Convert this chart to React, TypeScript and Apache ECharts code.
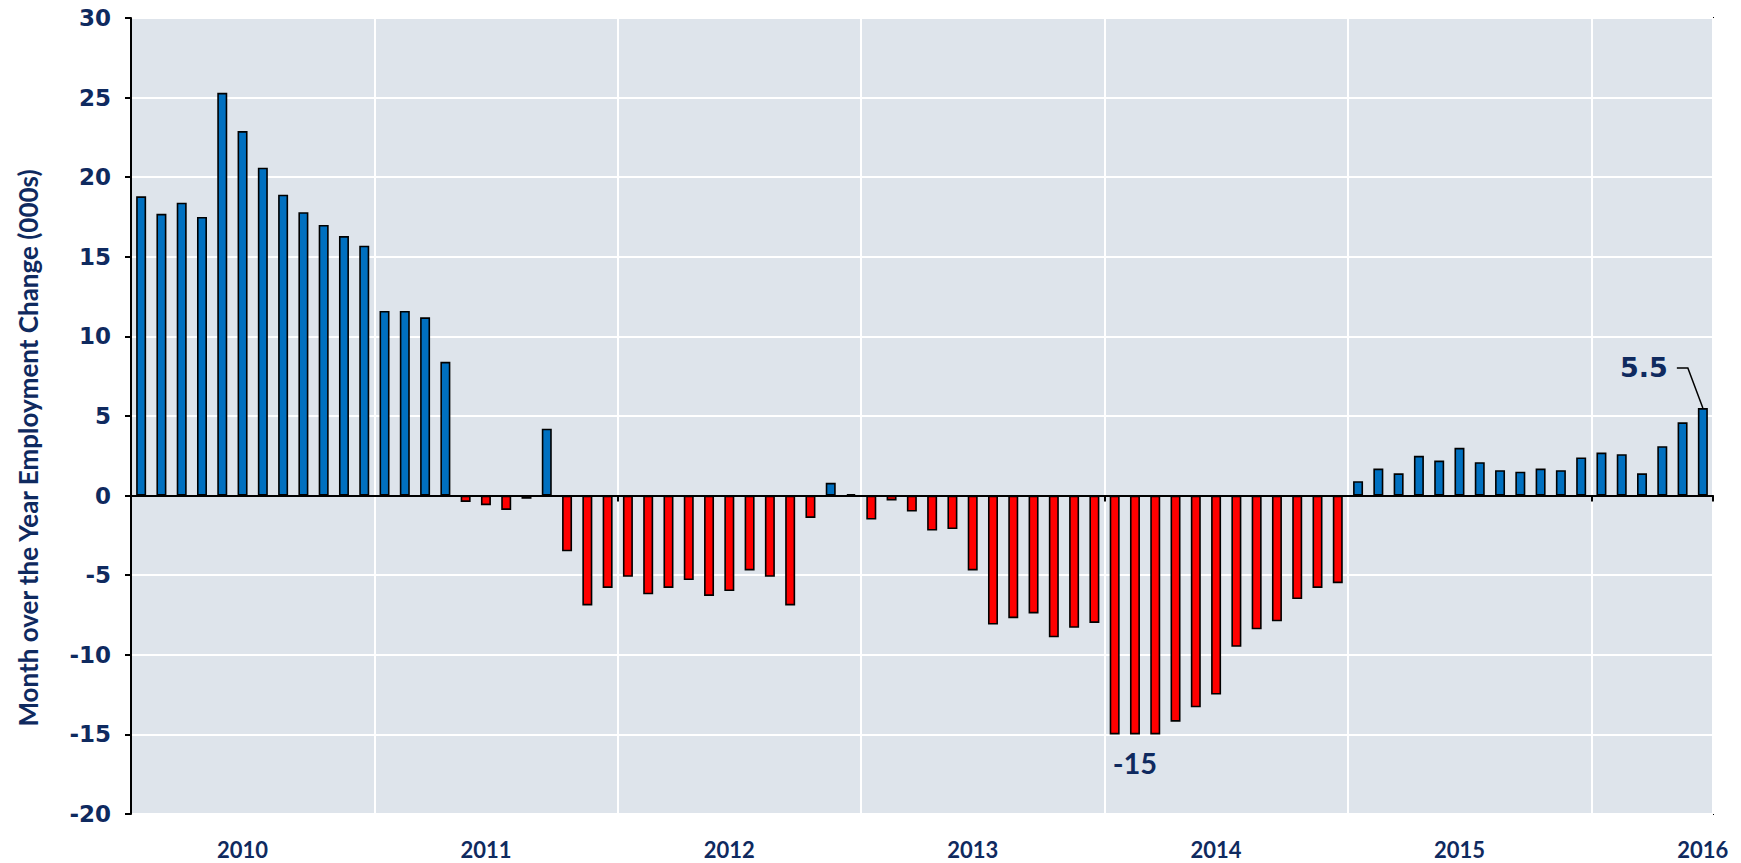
import React, { useEffect, useRef } from "react";
import * as echarts from "echarts";

// Monthly categories, Aug 2009 .. Jan 2016
const months: string[] = [
  "2009-08", "2009-09", "2009-10", "2009-11", "2009-12",
  "2010-01", "2010-02", "2010-03", "2010-04", "2010-05", "2010-06", "2010-07", "2010-08", "2010-09", "2010-10", "2010-11", "2010-12",
  "2011-01", "2011-02", "2011-03", "2011-04", "2011-05", "2011-06", "2011-07", "2011-08", "2011-09", "2011-10", "2011-11", "2011-12",
  "2012-01", "2012-02", "2012-03", "2012-04", "2012-05", "2012-06", "2012-07", "2012-08", "2012-09", "2012-10", "2012-11", "2012-12",
  "2013-01", "2013-02", "2013-03", "2013-04", "2013-05", "2013-06", "2013-07", "2013-08", "2013-09", "2013-10", "2013-11", "2013-12",
  "2014-01", "2014-02", "2014-03", "2014-04", "2014-05", "2014-06", "2014-07", "2014-08", "2014-09", "2014-10", "2014-11", "2014-12",
  "2015-01", "2015-02", "2015-03", "2015-04", "2015-05", "2015-06", "2015-07", "2015-08", "2015-09", "2015-10", "2015-11", "2015-12",
  "2016-01",
];

// Month over the year employment change (000s)
const employmentChange: number[] = [
  18.8, 17.7, 18.4, 17.5, 25.3,
  22.9, 20.6, 18.9, 17.8, 17.0, 16.3, 15.7, 11.6, 11.6, 11.2, 8.4, -0.4,
  -0.6, -0.9, -0.2, 4.2, -3.5, -6.9, -5.8, -5.1, -6.2, -5.8, -5.3, -6.3,
  -6.0, -4.7, -5.1, -6.9, -1.4, 0.8, 0.1, -1.5, -0.3, -1.0, -2.2, -2.1,
  -4.7, -8.1, -7.7, -7.4, -8.9, -8.3, -8.0, -15, -15, -15, -14.2, -13.3,
  -12.5, -9.5, -8.4, -7.9, -6.5, -5.8, -5.5, 0.9, 1.7, 1.4, 2.5, 2.2,
  3.0, 2.1, 1.6, 1.5, 1.7, 1.6, 2.4, 2.7, 2.6, 1.4, 3.1, 4.6,
  5.5,
];

const yAxisTicks = { min: -20, max: 30, step: 5 };
const yAxisTitle = "Month over the Year Employment Change (000s)";
const annotatedLow = 49; // middle of the three -15 bars
const annotatedLatest = employmentChange.length - 1;

const NAVY = "#0f2a5f";
const BLUE = "#0070c0";
const RED = "#ff0000";
const PLOT_BG = "#dee4eb";

export default function App() {
  const ref = useRef<HTMLDivElement>(null);

  useEffect(() => {
    if (!ref.current) return;
    const chart = echarts.init(ref.current, undefined, { renderer: "svg" });

    chart.setOption({
      animation: false,
      grid: {
        left: 131,
        right: 28,
        top: 18,
        bottom: 49,
        show: true,
        backgroundColor: PLOT_BG,
        borderColor: "#000",
        borderWidth: 2,
        z: 0,
      },
      xAxis: [
        {
          type: "category",
          data: months,
          position: "bottom",
          boundaryGap: true,
          axisLine: { show: false, onZero: false },
          axisTick: { show: false },
          axisLabel: {
            interval: (index: number) => index % 12 === 5,
            formatter: (v: string) => v.slice(0, 4),
            color: NAVY,
            fontFamily: "Lato",
            fontWeight: "bold",
            fontSize: 22,
            margin: 24,
          },
          splitLine: {
            show: true,
            interval: (index: number) => index % 12 === 0,
            lineStyle: { color: "#ffffff", width: 2 },
          },
        },
        {
          type: "category",
          data: months,
          position: "bottom",
          boundaryGap: true,
          axisLine: { show: true, onZero: true, lineStyle: { color: "#000", width: 2 } },
          axisTick: {
            show: true,
            interval: (index: number) => index > 0 && index % 24 === 0,
            length: 6,
            lineStyle: { color: "#000", width: 2 },
          },
          axisLabel: { show: false },
          splitLine: { show: false },
        },
      ],
      yAxis: {
        type: "value",
        min: yAxisTicks.min,
        max: yAxisTicks.max,
        interval: yAxisTicks.step,
        axisLine: { show: true, lineStyle: { color: "#000", width: 2 } },
        axisTick: { show: true, length: 6, lineStyle: { color: "#000", width: 2 } },
        axisLabel: {
          color: NAVY,
          fontFamily: "DejaVu Sans",
          fontWeight: "bold",
          fontSize: 23,
          margin: 20,
        },
        splitLine: { show: true, lineStyle: { color: "#ffffff", width: 2 } },
      },
      series: [
        {
          type: "bar",
          xAxisIndex: 0,
          yAxisIndex: 0,
          data: employmentChange,
          barWidth: 10,
          itemStyle: {
            color: (p: any) => (p.value >= 0 ? BLUE : RED),
            borderColor: "#000",
            borderWidth: 1.6,
          },
          z: 3,
        },
      ],
    });

    const [lx, ly] = chart.convertToPixel({ seriesIndex: 0 }, [annotatedLatest, employmentChange[annotatedLatest]]) as number[];
    const [mx, my] = chart.convertToPixel({ seriesIndex: 0 }, [annotatedLow, employmentChange[annotatedLow]]) as number[];

    chart.setOption({
      graphic: [
        {
          type: "text",
          x: 28,
          y: 448,
          rotation: Math.PI / 2,
          style: {
            text: yAxisTitle,
            fill: NAVY,
            fontFamily: "Lato",
            fontWeight: "bold",
            fontSize: 26,
            align: "center",
            verticalAlign: "middle",
          },
        },
        {
          type: "text",
          x: lx - 35,
          y: ly - 41,
          z: 10,
          style: {
            text: String(employmentChange[annotatedLatest]),
            fill: NAVY,
            fontFamily: "DejaVu Sans",
            fontWeight: "bold",
            fontSize: 27,
            align: "right",
            verticalAlign: "middle",
          },
        },
        {
          type: "polyline",
          z: 10,
          shape: {
            points: [
              [lx - 26, ly - 40],
              [lx - 15, ly - 40],
              [lx, ly],
            ],
          },
          style: { stroke: "#000", lineWidth: 1.5, fill: "none" },
        },
        {
          type: "text",
          x: mx,
          y: my + 28,
          z: 10,
          style: {
            text: String(employmentChange[annotatedLow]),
            fill: NAVY,
            fontFamily: "Lato",
            fontWeight: "bold",
            fontSize: 29,
            align: "center",
            verticalAlign: "middle",
          },
        },
      ],
    });

    return () => chart.dispose();
  }, []);

  return (
    <div
      ref={ref}
      style={{ position: "absolute", left: 0, top: 0, width: 1741, height: 863 }}
    />
  );
}
